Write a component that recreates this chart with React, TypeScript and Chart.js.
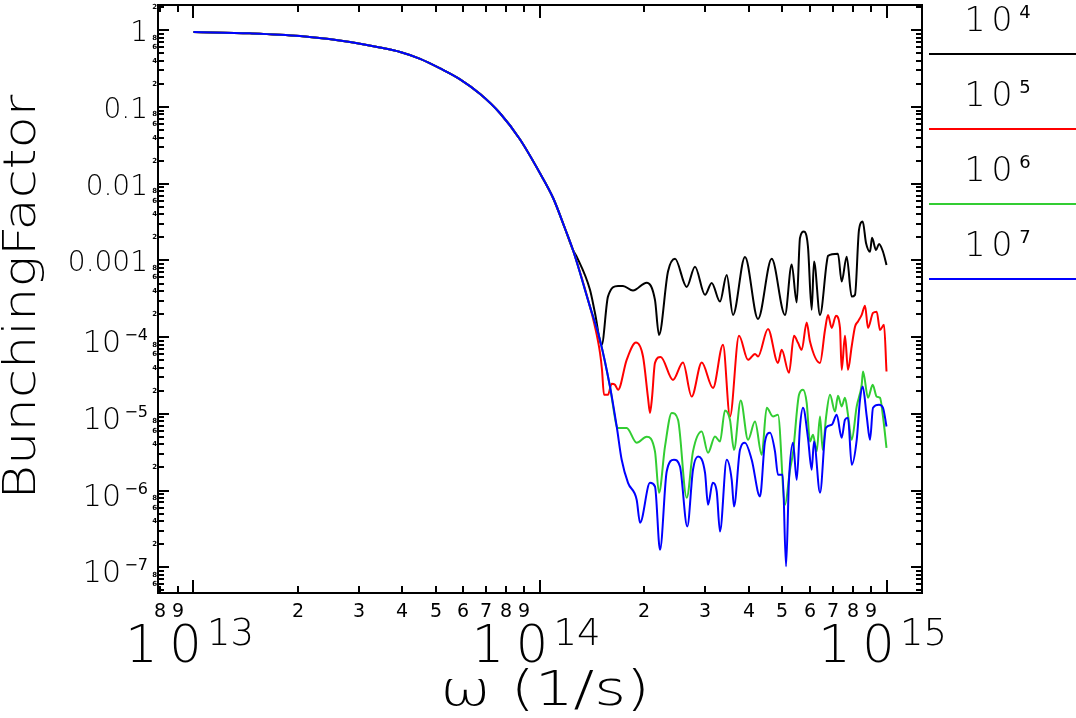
import { useEffect, useRef } from "react";
import { Chart, registerables } from "chart.js";

Chart.register(...registerables);

// ---- data: [omega (1/s), bunching factor] ----
// smooth decline shared by every particle number
const decline: [number, number][] = [
  [1.0e13, 0.95], [1.456e13, 0.914], [2.03e13, 0.843], [2.83e13, 0.704], [3.45e13, 0.597],
  [3.95e13, 0.522], [4.51e13, 0.425], [5.15e13, 0.319], [5.88e13, 0.23], [6.72e13, 0.148],
  [7.67e13, 0.083], [8.75e13, 0.038], [1.0e14, 0.0137], [1.092e14, 0.00647], [1.18e14, 0.00263],
  [1.245e14, 0.00137],
];
// shared by 10^5, 10^6, 10^7
const lowerShared: [number, number][] = [[1.394e14, 2.5e-4]];
// shared by 10^6, 10^7
const greenBlueShared: [number, number][] = [
  [1.441e14, 1.55e-4], [1.49e14, 9.2e-5], [1.592e14, 2.27e-5], [1.665e14, 6.84e-6],
];

const tail1e4: [number, number][] = [
  [1.276e14, 1.12e-3], [1.394e14, 4.14e-4], [1.441e14, 2.07e-4], [1.507e14, 7.94e-5], [1.571e14, 3.38e-4],
  [1.68e14, 4.66e-4], [1.736e14, 4.66e-4], [1.855e14, 4.05e-4], [2.032e14, 5.14e-4], [2.147e14, 3.06e-4],
  [2.205e14, 1.07e-4], [2.341e14, 7.16e-4], [2.453e14, 1.05e-3], [2.651e14, 4.52e-4], [2.801e14, 8.3e-4],
  [2.994e14, 3.56e-4], [3.13e14, 5.1e-4], [3.307e14, 2.91e-4], [3.458e14, 6.48e-4], [3.606e14, 1.95e-4],
  [3.905e14, 1.11e-3], [4.257e14, 1.73e-4], [4.663e14, 1.05e-3], [5.094e14, 1.95e-4], [5.326e14, 8.85e-4],
  [5.506e14, 2.83e-4], [5.628e14, 1.97e-3], [5.779e14, 2.38e-3], [5.934e14, 1.51e-3], [6.082e14, 2.27e-4],
  [6.177e14, 9.66e-4], [6.428e14, 1.95e-4], [6.72e14, 9.29e-4], [6.779e14, 1.15e-3], [7.244e14, 1.22e-3],
  [7.424e14, 5.3e-4], [7.675e14, 1.12e-3], [7.934e14, 3.38e-4], [8.111e14, 3.56e-4], [8.329e14, 2.5e-3],
  [8.537e14, 3.21e-3], [8.727e14, 1.69e-3], [8.962e14, 1.3e-3], [9.082e14, 1.97e-3], [9.326e14, 1.37e-3],
  [9.515e14, 1.64e-3], [9.77e14, 1.3e-3], [1.0e15, 8.75e-4],
];

const tail1e5: [number, number][] = [
  [1.441e14, 1.37e-4], [1.49e14, 6.24e-5], [1.51e14, 3.75e-5], [1.53e14, 1.77e-5], [1.571e14, 1.77e-5],
  [1.61e14, 2.47e-5], [1.646e14, 2.39e-5], [1.68e14, 2.06e-5], [1.779e14, 5.06e-5], [1.893e14, 8.5e-5],
  [1.983e14, 5.59e-5], [2.05e14, 1.62e-5], [2.077e14, 1.03e-5], [2.105e14, 1.62e-5], [2.147e14, 4.62e-5],
  [2.23e14, 5.53e-5], [2.42e14, 2.77e-5], [2.586e14, 4.67e-5], [2.74e14, 1.68e-5], [2.929e14, 4.67e-5],
  [3.157e14, 2.18e-5], [3.374e14, 7.94e-5], [3.534e14, 9.2e-6], [3.752e14, 1.04e-4], [3.984e14, 5.06e-5],
  [4.174e14, 6.05e-5], [4.257e14, 5.59e-5], [4.55e14, 1.28e-4], [4.862e14, 4.62e-5], [4.983e14, 6.83e-5],
  [5.231e14, 3.43e-5], [5.408e14, 1.04e-4], [5.554e14, 8.43e-5], [5.692e14, 6.83e-5], [5.884e14, 1.55e-4],
  [6.014e14, 8.77e-5], [6.428e14, 4.62e-5], [6.645e14, 1.24e-4], [6.779e14, 1.95e-4], [6.947e14, 1.32e-4],
  [7.149e14, 1.9e-4], [7.341e14, 1.32e-4], [7.424e14, 3.75e-5], [7.589e14, 1.04e-4], [7.742e14, 3.75e-5],
  [7.934e14, 7.55e-5], [8.111e14, 1.37e-4], [8.274e14, 1.6e-4], [8.48e14, 1.95e-4], [8.67e14, 2.56e-4],
  [8.844e14, 1.32e-4], [9.142e14, 2.07e-4], [9.369e14, 2.15e-4], [9.577e14, 1.24e-4], [9.835e14, 1.45e-4],
  [1.0e15, 3.56e-5],
];

const tail1e6: [number, number][] = [
  [1.68e14, 6.52e-6], [1.779e14, 6.52e-6], [1.901e14, 4.2e-6], [2.032e14, 5.03e-6], [2.147e14, 3.24e-6],
  [2.205e14, 9.36e-7], [2.295e14, 3.76e-6], [2.4e14, 1.03e-5], [2.502e14, 8.38e-6], [2.651e14, 8.05e-7],
  [2.764e14, 3.24e-6], [2.929e14, 5.89e-6], [3.054e14, 3.11e-6], [3.199e14, 5.07e-6], [3.307e14, 4.36e-6],
  [3.419e14, 1.11e-5], [3.534e14, 8.38e-6], [3.63e14, 3.4e-6], [3.795e14, 1.49e-5], [3.984e14, 4.59e-6],
  [4.174e14, 7.94e-6], [4.363e14, 2.92e-6], [4.511e14, 1.2e-5], [4.703e14, 9.24e-6], [4.862e14, 9.72e-6],
  [5.094e14, 6.53e-7], [5.266e14, 1.87e-6], [5.372e14, 3.11e-6], [5.591e14, 1.77e-5], [5.741e14, 2.06e-5],
  [5.884e14, 1.39e-5], [6.014e14, 4.36e-6], [6.136e14, 5.33e-6], [6.289e14, 3.24e-6], [6.428e14, 9.24e-6],
  [6.545e14, 3.4e-6], [6.689e14, 8.89e-6], [6.869e14, 1.77e-5], [7.102e14, 1.07e-5], [7.244e14, 1.72e-5],
  [7.424e14, 1.25e-5], [7.589e14, 1.62e-5], [7.742e14, 9.72e-6], [7.934e14, 4.59e-6], [8.204e14, 1.25e-5],
  [8.48e14, 2.39e-5], [8.555e14, 3.56e-5], [8.844e14, 1.62e-5], [9.124e14, 2.39e-5], [9.369e14, 1.68e-5],
  [9.577e14, 1.62e-5], [9.77e14, 9.24e-6], [1.0e15, 3.61e-6],
];

const tail1e7: [number, number][] = [
  [1.721e14, 2.52e-6], [1.795e14, 1.26e-6], [1.901e14, 7.6e-7], [1.944e14, 3.8e-7], [2.077e14, 1.26e-6],
  [2.147e14, 1.13e-6], [2.22e14, 1.69e-7], [2.321e14, 1.77e-6], [2.436e14, 2.52e-6], [2.535e14, 2.06e-6],
  [2.661e14, 3.4e-7], [2.764e14, 1.87e-6], [2.858e14, 2.78e-6], [2.994e14, 1.71e-6], [3.054e14, 6.53e-7],
  [3.151e14, 1.26e-6], [3.236e14, 9.73e-7], [3.307e14, 2.93e-7], [3.458e14, 2.52e-6], [3.575e14, 1.38e-6],
  [3.63e14, 6.2e-7], [3.777e14, 3.4e-6], [3.905e14, 4.2e-6], [4.083e14, 2.52e-6], [4.314e14, 8.38e-7],
  [4.46e14, 4.36e-6], [4.611e14, 5.66e-6], [4.766e14, 3.24e-6], [4.862e14, 1.61e-6], [5.016e14, 1.61e-6],
  [5.129e14, 1.03e-7], [5.231e14, 1.38e-6], [5.372e14, 4.2e-6], [5.506e14, 1.38e-6], [5.628e14, 6.84e-6],
  [5.741e14, 1.2e-5], [5.934e14, 4.88e-6], [6.082e14, 1.87e-6], [6.177e14, 4.36e-6], [6.428e14, 9.36e-7],
  [6.689e14, 6.58e-6], [6.947e14, 7.2e-6], [7.182e14, 9.72e-6], [7.424e14, 4.88e-6], [7.589e14, 8.38e-6],
  [7.742e14, 8.89e-6], [7.934e14, 2.17e-6], [8.204e14, 4.59e-6], [8.385e14, 1.52e-5], [8.537e14, 2.27e-5],
  [8.769e14, 9.24e-6], [8.962e14, 4.59e-6], [9.142e14, 1.2e-5], [9.515e14, 1.31e-5], [9.77e14, 1.2e-5],
  [1.0e15, 6.84e-6],
];

const seriesExponents = ["4", "5", "6", "7"];
const seriesColors = ["#000000", "#ff0000", "#32cd32", "#0000ff"];

// axes
const xRange = [7.9e12, 1.266e15];
const yRange = [4.62e-8, 2.14];
const xDecades = [12, 13, 14, 15];
const xMajorExponents = ["13", "14", "15"];
const yDecades = [-8, -7, -6, -5, -4, -3, -2, -1, 0];
const yMajorLabels: { v: number; text: string; exp?: string }[] = [
  { v: 1, text: "1" },
  { v: 0.1, text: "0.1" },
  { v: 0.01, text: "0.01" },
  { v: 0.001, text: "0.001" },
  { v: 1e-4, text: "10", exp: "\u22124" },
  { v: 1e-5, text: "10", exp: "\u22125" },
  { v: 1e-6, text: "10", exp: "\u22126" },
  { v: 1e-7, text: "10", exp: "\u22127" },
];
const minorMultipliers = [2, 3, 4, 5, 6, 7, 8, 9];
const tinyYLabels = [2, 4, 6, 8];

const FONT = "'DejaVu Sans'";
const WEIGHT = "200";

const setFont = (ctx: CanvasRenderingContext2D, size: number, weight = WEIGHT) => {
  ctx.font = `${weight} ${size}px ${FONT}`;
};

// draw text, optionally stretched horizontally to a target width
const drawText = (
  ctx: CanvasRenderingContext2D, s: string, x: number, y: number, size: number,
  align: CanvasTextAlign = "left", width?: number, weight = WEIGHT
) => {
  setFont(ctx, size, weight);
  ctx.textAlign = align;
  ctx.textBaseline = "alphabetic";
  if (width) {
    const w = ctx.measureText(s).width;
    ctx.save();
    ctx.translate(x, y);
    ctx.scale(width / w, 1);
    ctx.fillText(s, 0, 0);
    ctx.restore();
  } else {
    ctx.fillText(s, x, y);
  }
};

const idlFrame = {
  id: "idlFrame",
  afterDraw(chart: Chart) {
    const { ctx, chartArea: a } = chart;
    const xs = chart.scales.x;
    const ys = chart.scales.y;
    ctx.save();
    ctx.strokeStyle = "#000";
    ctx.fillStyle = "#000";
    ctx.lineWidth = 2;
    ctx.strokeRect(a.left, a.top, a.right - a.left, a.bottom - a.top);

    const line = (x1: number, y1: number, x2: number, y2: number) => {
      ctx.beginPath();
      ctx.moveTo(x1, y1);
      ctx.lineTo(x2, y2);
      ctx.stroke();
    };

    // x ticks and labels
    xDecades.forEach((d) => {
      [1, ...minorMultipliers].forEach((k) => {
        const v = k * Math.pow(10, d);
        if (v < xRange[0] || v > xRange[1]) return;
        const px = Math.round(xs.getPixelForValue(v));
        const len = k === 1 ? 13 : 7;
        line(px, a.bottom, px, a.bottom - len);
        line(px, a.top, px, a.top + len);
        if (k > 1) drawText(ctx, String(k), px, a.bottom + 24, 19, "center", undefined, "normal");
      });
    });
    xMajorExponents.forEach((e) => {
      const px = xs.getPixelForValue(Math.pow(10, Number(e)));
      drawText(ctx, "1", px - 52, a.bottom + 69, 51, "center");
      drawText(ctx, "0", px - 8, a.bottom + 69, 51, "center");
      drawText(ctx, e, px + 37, a.bottom + 52, 37, "center");
    });

    // y ticks and labels
    yDecades.forEach((d) => {
      [1, ...minorMultipliers].forEach((k) => {
        const v = k * Math.pow(10, d);
        if (v < yRange[0] || v > yRange[1]) return;
        const py = Math.round(ys.getPixelForValue(v));
        const len = k === 1 ? 11 : 6;
        line(a.left, py, a.left + len, py);
        line(a.right, py, a.right - len, py);
        if (tinyYLabels.includes(k)) {
          setFont(ctx, 7, "bold");
          ctx.textAlign = "right";
          ctx.textBaseline = "middle";
          ctx.fillText(String(k), a.left - 1, py);
        }
      });
    });
    yMajorLabels.forEach((l) => {
      const py = ys.getPixelForValue(l.v);
      const right = a.left - 10;
      if (l.exp) {
        drawText(ctx, l.exp, right, py + 3, 16, "right", undefined, "normal");
        drawText(ctx, l.text, right - 27, py + 15, 30, "right");
      } else {
        drawText(ctx, l.text, right, py + 11, 28, "right");
      }
    });

    // axis titles
    ctx.save();
    ctx.translate(35, (a.top + a.bottom) / 2 - 2);
    ctx.rotate(-Math.PI / 2);
    drawText(ctx, "BunchingFactor", 0, 0, 45, "center", 405);
    ctx.restore();
    drawText(ctx, "\u03c9 (1/s)", (a.left + a.right) / 2 + 5, a.bottom + 112, 48, "center", 210);

    // legend on the right
    chart.data.datasets.forEach((ds, i) => {
      const ly = 54 + 75 * i;
      ctx.strokeStyle = ds.borderColor as string;
      line(a.right + 7, ly, chart.width, ly);
      drawText(ctx, "1", 975, ly - 23, 33, "center");
      drawText(ctx, "0", 1002, ly - 23, 33, "center");
      drawText(ctx, seriesExponents[i], 1025, ly - 36, 18, "center", undefined, "normal");
    });
    ctx.restore();
  },
};

const App = () => {
  const canvasRef = useRef<HTMLCanvasElement>(null);
  const chartRef = useRef<Chart | null>(null);

  useEffect(() => {
    if (!canvasRef.current) return;
    const pts = (rows: [number, number][]) => rows.map(([x, y]) => ({ x, y }));
    const series = [
      [...decline, ...tail1e4],
      [...decline, ...lowerShared, ...tail1e5],
      [...decline, ...lowerShared, ...greenBlueShared, ...tail1e6],
      [...decline, ...lowerShared, ...greenBlueShared, ...tail1e7],
    ];

    chartRef.current?.destroy();
    chartRef.current = new Chart(canvasRef.current, {
      type: "line",
      data: {
        datasets: series.map((rows, i) => ({
          label: `10^${seriesExponents[i]}`,
          data: pts(rows),
          borderColor: seriesColors[i],
          borderWidth: 2,
          pointRadius: 0,
          cubicInterpolationMode: "monotone" as const,
          fill: false,
          order: 4 - i,
        })),
      },
      options: {
        animation: false,
        responsive: true,
        maintainAspectRatio: false,
        layout: { padding: { left: 158, top: 5, right: 154, bottom: 125 } },
        plugins: { legend: { display: false }, tooltip: { enabled: false } },
        scales: {
          x: {
            type: "logarithmic",
            min: xRange[0],
            max: xRange[1],
            grid: { display: false },
            border: { display: false },
            ticks: { display: false },
            afterFit: (s: any) => { s.height = 0; },
          },
          y: {
            type: "logarithmic",
            min: yRange[0],
            max: yRange[1],
            grid: { display: false },
            border: { display: false },
            ticks: { display: false },
            afterFit: (s: any) => { s.width = 0; },
          },
        },
      },
      plugins: [idlFrame],
    });

    return () => {
      chartRef.current?.destroy();
      chartRef.current = null;
    };
  }, []);

  return (
    <div style={{ position: "fixed", left: 0, top: 0, width: 1076, height: 718, background: "#fff" }}>
      <canvas ref={canvasRef} />
    </div>
  );
};

export default App;
